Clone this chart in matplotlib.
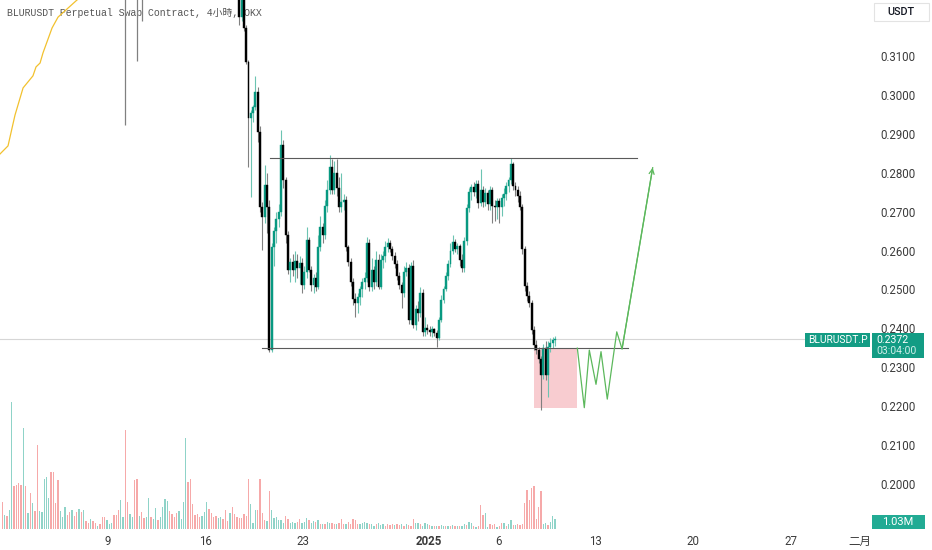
import matplotlib
matplotlib.use("Agg")
import matplotlib.pyplot as plt
from matplotlib.patches import Rectangle
import numpy as np

W, H = 932, 550

# ---------------- data ----------------
title = "BLURUSDT Perpetual Swap Contract, 4小時, OKX"
symbol = "BLURUSDT.P"
last_price = 0.2372
countdown = "03:04:00"
last_volume_label = "1.03M"
currency = "USDT"

# time in days since 2024-12-01 00:00, 4h bars
first_bar_day = 17 + 2 / 6
bar_days = 1 / 6

first_open = 0.3300
closes = [0.3200, 0.3270, 0.3172, 0.3085, 0.2941, 0.2953, 0.2969, 0.3007, 0.2905, 0.2712,
          0.2686, 0.2768, 0.2712, 0.2344, 0.2609, 0.2650, 0.2680, 0.2700, 0.2871, 0.2780,
          0.2640, 0.2550, 0.2570, 0.2550, 0.2573, 0.2555, 0.2568, 0.2511, 0.2545, 0.2627,
          0.2550, 0.2511, 0.2530, 0.2505, 0.2610, 0.2660, 0.2640, 0.2715, 0.2755, 0.2815,
          0.2755, 0.2800, 0.2760, 0.2712, 0.2725, 0.2730, 0.2609, 0.2570, 0.2519, 0.2475,
          0.2466, 0.2480, 0.2500, 0.2520, 0.2530, 0.2620, 0.2505, 0.2550, 0.2520, 0.2575,
          0.2505, 0.2575, 0.2585, 0.2609, 0.2620, 0.2605, 0.2585, 0.2565, 0.2535, 0.2511,
          0.2490, 0.2545, 0.2555, 0.2421, 0.2560, 0.2408, 0.2450, 0.2440, 0.2490, 0.2390,
          0.2400, 0.2395, 0.2390, 0.2398, 0.2388, 0.2375, 0.2421, 0.2473, 0.2502, 0.2535,
          0.2565, 0.2600, 0.2622, 0.2605, 0.2612, 0.2575, 0.2555, 0.2625, 0.2710, 0.2750,
          0.2762, 0.2750, 0.2770, 0.2722, 0.2755, 0.2725, 0.2748, 0.2720, 0.2755, 0.2715,
          0.2712, 0.2728, 0.2712, 0.2735, 0.2745, 0.2765, 0.2780, 0.2822, 0.2765, 0.2755,
          0.2740, 0.2712, 0.2605, 0.2508, 0.2482, 0.2465, 0.2395, 0.2356, 0.2345, 0.2322,
          0.2280, 0.2349, 0.2280, 0.2352, 0.2362, 0.2370, 0.2372]
highs = [0.3330, 0.3300, 0.3290, 0.3180, 0.3090, 0.2960, 0.2975, 0.3049, 0.3020, 0.2920,
         0.2725, 0.2820, 0.2800, 0.2730, 0.2620, 0.2660, 0.2700, 0.2720, 0.2910, 0.2885,
         0.2790, 0.2650, 0.2580, 0.2590, 0.2600, 0.2590, 0.2585, 0.2580, 0.2560, 0.2660,
         0.2635, 0.2560, 0.2540, 0.2545, 0.2640, 0.2690, 0.2670, 0.2730, 0.2780, 0.2845,
         0.2835, 0.2830, 0.2835, 0.2790, 0.2800, 0.2745, 0.2740, 0.2615, 0.2580, 0.2530,
         0.2490, 0.2490, 0.2510, 0.2530, 0.2545, 0.2635, 0.2630, 0.2580, 0.2560, 0.2600,
         0.2590, 0.2590, 0.2600, 0.2625, 0.2632, 0.2628, 0.2612, 0.2595, 0.2575, 0.2545,
         0.2520, 0.2560, 0.2570, 0.2565, 0.2570, 0.2575, 0.2460, 0.2470, 0.2505, 0.2500,
         0.2430, 0.2410, 0.2405, 0.2405, 0.2402, 0.2395, 0.2430, 0.2485, 0.2510, 0.2545,
         0.2575, 0.2620, 0.2640, 0.2630, 0.2620, 0.2618, 0.2590, 0.2635, 0.2720, 0.2760,
         0.2770, 0.2775, 0.2780, 0.2780, 0.2810, 0.2765, 0.2760, 0.2755, 0.2765, 0.2762,
         0.2730, 0.2735, 0.2735, 0.2745, 0.2760, 0.2775, 0.2790, 0.2838, 0.2828, 0.2775,
         0.2765, 0.2752, 0.2720, 0.2612, 0.2520, 0.2495, 0.2472, 0.2405, 0.2370, 0.2352,
         0.2330, 0.2360, 0.2368, 0.2368, 0.2375, 0.2378, 0.2380]
lows = [0.3180, 0.3190, 0.3165, 0.3080, 0.2815, 0.2738, 0.2930, 0.2960, 0.2880, 0.2700,
        0.2601, 0.2670, 0.2645, 0.2340, 0.2340, 0.2560, 0.2620, 0.2660, 0.2690, 0.2760,
        0.2620, 0.2540, 0.2520, 0.2535, 0.2520, 0.2530, 0.2515, 0.2490, 0.2500, 0.2530,
        0.2545, 0.2495, 0.2490, 0.2495, 0.2500, 0.2600, 0.2620, 0.2630, 0.2700, 0.2745,
        0.2745, 0.2745, 0.2740, 0.2700, 0.2700, 0.2705, 0.2600, 0.2560, 0.2510, 0.2460,
        0.2429, 0.2440, 0.2460, 0.2480, 0.2500, 0.2520, 0.2495, 0.2495, 0.2500, 0.2510,
        0.2500, 0.2500, 0.2555, 0.2570, 0.2595, 0.2595, 0.2575, 0.2555, 0.2525, 0.2500,
        0.2452, 0.2480, 0.2535, 0.2410, 0.2410, 0.2400, 0.2395, 0.2420, 0.2430, 0.2380,
        0.2380, 0.2385, 0.2380, 0.2378, 0.2380, 0.2352, 0.2370, 0.2415, 0.2465, 0.2495,
        0.2525, 0.2558, 0.2590, 0.2595, 0.2590, 0.2560, 0.2545, 0.2545, 0.2615, 0.2700,
        0.2730, 0.2740, 0.2735, 0.2710, 0.2715, 0.2712, 0.2715, 0.2705, 0.2705, 0.2671,
        0.2675, 0.2680, 0.2670, 0.2690, 0.2715, 0.2730, 0.2750, 0.2770, 0.2755, 0.2740,
        0.2725, 0.2705, 0.2590, 0.2495, 0.2470, 0.2455, 0.2385, 0.2345, 0.2335, 0.2310,
        0.2190, 0.2270, 0.2268, 0.2223, 0.2340, 0.2350, 0.2355]

# wicks of earlier bars whose bodies sit above the visible range
spike_days = [9.25, 10.083, 10.417]
spike_lows = [0.2923, 0.3087, 0.3190]
spike_highs = [0.3400, 0.3400, 0.3400]

# moving average line (upper-left)
ma_days = [0.24, 0.82, 1.11, 1.32, 1.90, 2.61, 2.83, 3.12, 3.33, 3.98, 4.41, 5.77, 6.2]
ma_vals = [0.2848, 0.2869, 0.2915, 0.2948, 0.3018, 0.3049, 0.3072, 0.3082, 0.3108, 0.3172,
           0.3200, 0.3244, 0.3255]

# volume in units of 100k
vol_100k = [28, 14, 13, 20, 131, 44, 45, 47, 45, 104,
            44, 16, 37, 27, 19, 86, 19, 18, 52, 54,
            32, 59, 59, 27, 50, 19, 12, 23, 14, 18,
            20, 13, 17, 21, 17, 20, 8, 6, 10, 8,
            6, 3, 5, 12, 12, 9, 5, 6, 14, 14,
            20, 30, 12, 102, 28, 15, 12, 50, 52, 13,
            18, 11, 12, 32, 12, 10, 22, 9, 12, 23,
            31, 29, 19, 15, 12, 16, 19, 10, 28, 94,
            48, 52, 26, 14, 15, 12, 13, 17, 28, 21,
            16, 12, 13, 11, 12, 10, 20, 8, 16, 23,
            15, 12, 11,
            11, 15, 13, 52, 26, 6, 20, 20, 51, 16,
            9, 8, 39, 20, 11, 12, 9, 9, 6, 13,
            10, 6, 7, 6, 7, 10, 6, 7, 11, 9,
            6, 8, 7, 9, 5, 5, 5, 7, 6, 6,
            5, 5, 6, 10, 5, 5, 7, 5, 10, 9,
            5, 5, 6, 7, 6, 5, 5, 3, 5, 6,
            4, 5, 3, 5, 4, 5, 4, 5, 4, 5,
            3, 5, 4, 3, 10, 6, 6, 5, 3, 6,
            5, 4, 3, 3, 3, 3, 4, 3, 3, 3,
            3, 4, 3, 3, 3, 3, 5, 4, 7, 6,
            3, 2, 3, 25, 14, 16, 2, 5, 4, 5,
            2, 3, 6, 6, 3, 5, 9, 4, 4, 5,
            4, 5, 27, 40, 30, 42, 44, 10, 23, 39,
            5, 6, 4, 7, 13, 10.3]
vol_dir = ("duduuddddu" "dududduuuu" "udddduuudd" "uddududdud" "duddduuudd"
           "duudduuddu" "dduuduuduu" "uudddduuuu" "dddddduuud" "ddduudddud" "ddd"
           "dddduuuddd" "duduuuuuud" "duuudduuud" "uudududuud" "dudddudddd"
           "duuuuduudu" "uudddduddu" "duddduuduu" "udududuudu" "dududuuduu"
           "duddduuddd" "udduduudud" "dddddddddd" "uuduuu")

# drawings
range_top = 0.2839
range_top_days = [19.63, 45.97]
range_bottom = 0.2349
range_bottom_days = [19.05, 45.33]
zone_days = [38.58, 41.66]
zone_prices = [0.2195, 0.2349]
path_days = [41.69, 42.19, 42.55, 43.03, 43.39, 43.84, 44.52, 44.90, 47.10]
path_prices = [0.2349, 0.2196, 0.2344, 0.2256, 0.2340, 0.2218, 0.2391, 0.2347, 0.2813]

price_ticks = [0.20, 0.21, 0.22, 0.23, 0.24, 0.25, 0.26, 0.27, 0.28, 0.29, 0.30, 0.31]
date_ticks = [8, 15, 22, 31, 36, 43, 50, 57, 62]
date_labels = ["9", "16", "23", "2025", "6", "13", "20", "27", "二月"]

# ---------------- style ----------------
UP = "#089981"
DOWN = "#000000"
UP_WICK = "#6cc4b2"
DOWN_WICK = "#808080"
VOL_UP = "#8fd3c8"
VOL_DOWN = "#f6a9a9"
TXT = "#3b3b3b"
BOX = "#139c84"

fig = plt.figure(figsize=(W / 100, H / 100), dpi=100)
fig.patch.set_facecolor("white")


def fx(x):
    return x / W


def fy(y):
    return 1 - y / H


ax_rect = [0, fy(529), fx(870), 529 / H]
axv = fig.add_axes(ax_rect)
ax = fig.add_axes(ax_rect, sharex=axv)
ax.patch.set_alpha(0)
axv.set_zorder(0)
ax.set_zorder(1)

x_lo, x_hi = 0.244, 62.70
y_lo, y_hi = 0.18841, 0.32440
ax.set_xlim(x_lo, x_hi)
ax.set_ylim(y_lo, y_hi)

# volume
n_vol = min(len(vol_100k), len(vol_dir))
n_c = len(closes)
last_center = first_bar_day + (n_c - 1) * bar_days + bar_days / 2
vol_t = [last_center - (n_vol - 1 - i) * bar_days for i in range(n_vol)]
vol_c = [VOL_UP if vol_dir[i] == "u" else VOL_DOWN for i in range(n_vol)]
axv.bar(vol_t, vol_100k[:n_vol], width=0.095, color=vol_c, linewidth=0)
axv.set_ylim(0, 529 / 0.971)
axv.axis("off")

# moving average
ax.plot(ma_days, ma_vals, color="#f2c12e", lw=0.9, zorder=2)

# spikes
ax.vlines(spike_days, spike_lows, spike_highs, color=DOWN_WICK, lw=0.9, zorder=3)

# candles
opens = [first_open] + closes[:-1]
centers = [first_bar_day + i * bar_days + bar_days / 2 for i in range(n_c)]
for t, o, h, l, c in zip(centers, opens, highs, lows, closes):
    up = c >= o
    ax.vlines(t, l, h, color=UP_WICK if up else DOWN_WICK, lw=0.8, zorder=3)
    col = UP if up else DOWN
    ax.bar(t, c - o, bottom=o, width=0.14, color=col, edgecolor=col, linewidth=0.3, zorder=4)

# current price line
ax.axhline(last_price, xmin=0, xmax=805 / 870, color="#d6d6d6", lw=0.8, zorder=1)

# range lines
ax.plot(range_top_days, [range_top, range_top], color="#5a5a5a", lw=0.8, zorder=5)
ax.plot(range_bottom_days, [range_bottom, range_bottom], color="#5a5a5a", lw=0.8, zorder=5)

# red zone
ax.add_patch(Rectangle((zone_days[0], zone_prices[0]), zone_days[1] - zone_days[0],
                       zone_prices[1] - zone_prices[0], facecolor="#f8ccd0", edgecolor="none",
                       zorder=2))

# projected path
GREEN = "#5cb85c"
ax.plot(path_days, path_prices, color=GREEN, lw=0.9, zorder=5)
ax.annotate("", xy=(path_days[-1], path_prices[-1]), xytext=(path_days[-2], path_prices[-2]),
            arrowprops=dict(arrowstyle="->", color=GREEN, lw=0.9, mutation_scale=9,
                            shrinkA=0, shrinkB=0), zorder=5)

# title (behind candles)
ax.text(fx(7), fy(13), title, transform=fig.transFigure, fontsize=7.1,
        family=["Liberation Mono", "Noto Sans CJK SC"], color="#555555",
        va="center", ha="left", zorder=1)

# axes styling
for s in ax.spines.values():
    s.set_visible(False)
ax.yaxis.tick_right()
ax.set_yticks(price_ticks)
ax.set_yticklabels([f"{v:.4f}" for v in price_ticks])
ax.tick_params(axis="y", length=0, pad=7.2, labelsize=8.3, labelcolor=TXT)
ax.set_xticks(date_ticks)
ax.set_xticklabels(date_labels)
ax.tick_params(axis="x", length=0, pad=4.6, labelsize=8.3, labelcolor=TXT)
for lab in ax.get_yticklabels():
    lab.set_family(["Roboto", "DejaVu Sans"])
for lab in ax.get_xticklabels():
    lab.set_family(["Roboto", "Noto Sans CJK SC"])
ax.get_xticklabels()[3].set_fontweight("bold")


def box(x0, y0, x1, y1, face, edge="none", lw=0):
    fig.add_artist(Rectangle((fx(x0), fy(y1)), fx(x1) - fx(x0), (y1 - y0) / H,
                             transform=fig.transFigure, facecolor=face, edgecolor=edge,
                             linewidth=lw, zorder=10))


box(805, 333, 870, 347, BOX)
fig.text(fx(837.5), fy(340.3), symbol, fontsize=7.4, color="white", ha="center", va="center",
         family=["Roboto", "DejaVu Sans"], zorder=11)
box(872, 333, 924, 358, BOX)
fig.text(fx(876), fy(340.2), f"{last_price:.4f}", fontsize=7.6, color="white", ha="left",
         va="center", family=["Roboto", "DejaVu Sans"], zorder=11)
fig.text(fx(876), fy(351.3), countdown, fontsize=7.6, color="#cdeee8", ha="left",
         va="center", family=["Roboto", "DejaVu Sans"], zorder=11)
box(872, 515, 925, 529, "#22ab94")
fig.text(fx(898), fy(522), last_volume_label, fontsize=8.0, color="white", ha="center",
         va="center", family=["Roboto", "DejaVu Sans"], zorder=11)
box(874, 3, 929, 21, "white", edge="#e3e3e3", lw=0.8)
fig.text(fx(901), fy(12), currency, fontsize=7.8, color="#131722", ha="center", va="center",
         family=["Roboto", "DejaVu Sans"], fontweight="medium", zorder=11)

fig.savefig("out.png", dpi=100, facecolor="white")
